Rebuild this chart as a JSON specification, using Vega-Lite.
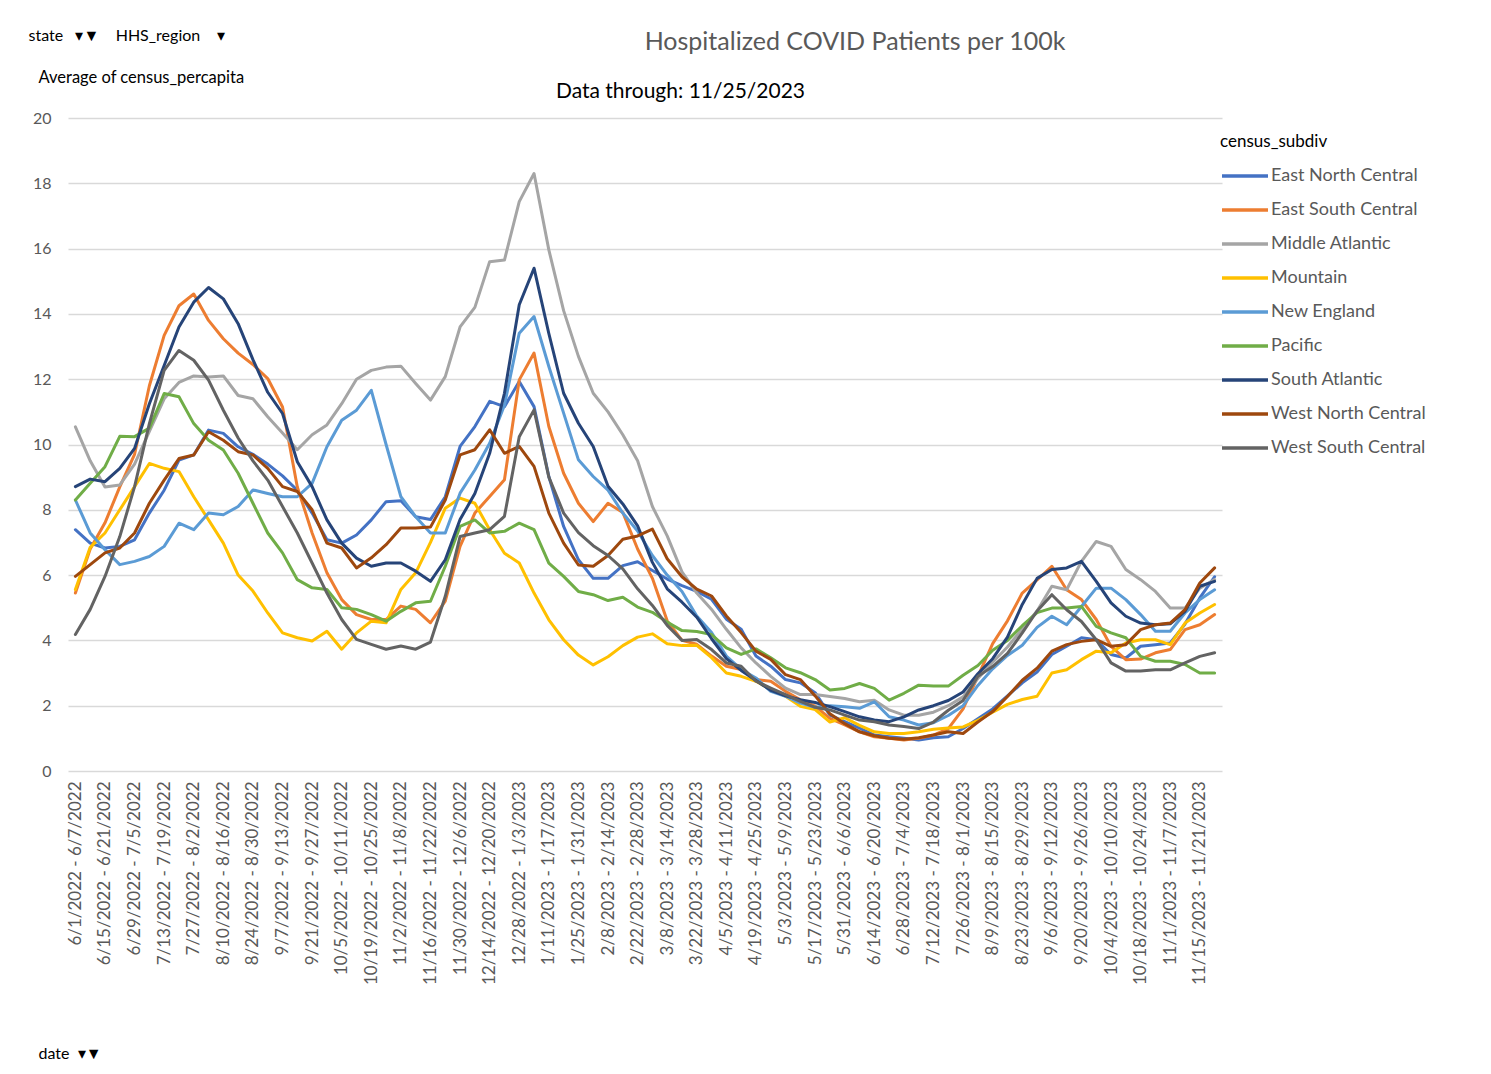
{
"$schema":"https://vega.github.io/schema/vega-lite/v6.json",
"width":1154,"height":653,
"autosize":{"type":"none"},
"padding":{"left":68,"top":118,"right":269,"bottom":303},
"background":"white",
"config":{"view":{"stroke":null},"font":"Lato"},
"title":{"text":"Hospitalized COVID Patients per 100k","fontSize":25,"font":"Lato","fontWeight":"normal","color":"#595959","anchor":"middle","frame":"group","dx":210,"offset":-28},
"datasets":{
"weeks":[
{"w":0,"week":"6/1/2022 - 6/7/2022"},{"w":1,"week":"6/8/2022 - 6/14/2022"},{"w":2,"week":"6/15/2022 - 6/21/2022"},{"w":3,"week":"6/22/2022 - 6/28/2022"},{"w":4,"week":"6/29/2022 - 7/5/2022"},{"w":5,"week":"7/6/2022 - 7/12/2022"},{"w":6,"week":"7/13/2022 - 7/19/2022"},{"w":7,"week":"7/20/2022 - 7/26/2022"},{"w":8,"week":"7/27/2022 - 8/2/2022"},{"w":9,"week":"8/3/2022 - 8/9/2022"},
{"w":10,"week":"8/10/2022 - 8/16/2022"},{"w":11,"week":"8/17/2022 - 8/23/2022"},{"w":12,"week":"8/24/2022 - 8/30/2022"},{"w":13,"week":"8/31/2022 - 9/6/2022"},{"w":14,"week":"9/7/2022 - 9/13/2022"},{"w":15,"week":"9/14/2022 - 9/20/2022"},{"w":16,"week":"9/21/2022 - 9/27/2022"},{"w":17,"week":"9/28/2022 - 10/4/2022"},{"w":18,"week":"10/5/2022 - 10/11/2022"},{"w":19,"week":"10/12/2022 - 10/18/2022"},
{"w":20,"week":"10/19/2022 - 10/25/2022"},{"w":21,"week":"10/26/2022 - 11/1/2022"},{"w":22,"week":"11/2/2022 - 11/8/2022"},{"w":23,"week":"11/9/2022 - 11/15/2022"},{"w":24,"week":"11/16/2022 - 11/22/2022"},{"w":25,"week":"11/23/2022 - 11/29/2022"},{"w":26,"week":"11/30/2022 - 12/6/2022"},{"w":27,"week":"12/7/2022 - 12/13/2022"},{"w":28,"week":"12/14/2022 - 12/20/2022"},{"w":29,"week":"12/21/2022 - 12/27/2022"},
{"w":30,"week":"12/28/2022 - 1/3/2023"},{"w":31,"week":"1/4/2023 - 1/10/2023"},{"w":32,"week":"1/11/2023 - 1/17/2023"},{"w":33,"week":"1/18/2023 - 1/24/2023"},{"w":34,"week":"1/25/2023 - 1/31/2023"},{"w":35,"week":"2/1/2023 - 2/7/2023"},{"w":36,"week":"2/8/2023 - 2/14/2023"},{"w":37,"week":"2/15/2023 - 2/21/2023"},{"w":38,"week":"2/22/2023 - 2/28/2023"},{"w":39,"week":"3/1/2023 - 3/7/2023"},
{"w":40,"week":"3/8/2023 - 3/14/2023"},{"w":41,"week":"3/15/2023 - 3/21/2023"},{"w":42,"week":"3/22/2023 - 3/28/2023"},{"w":43,"week":"3/29/2023 - 4/4/2023"},{"w":44,"week":"4/5/2023 - 4/11/2023"},{"w":45,"week":"4/12/2023 - 4/18/2023"},{"w":46,"week":"4/19/2023 - 4/25/2023"},{"w":47,"week":"4/26/2023 - 5/2/2023"},{"w":48,"week":"5/3/2023 - 5/9/2023"},{"w":49,"week":"5/10/2023 - 5/16/2023"},
{"w":50,"week":"5/17/2023 - 5/23/2023"},{"w":51,"week":"5/24/2023 - 5/30/2023"},{"w":52,"week":"5/31/2023 - 6/6/2023"},{"w":53,"week":"6/7/2023 - 6/13/2023"},{"w":54,"week":"6/14/2023 - 6/20/2023"},{"w":55,"week":"6/21/2023 - 6/27/2023"},{"w":56,"week":"6/28/2023 - 7/4/2023"},{"w":57,"week":"7/5/2023 - 7/11/2023"},{"w":58,"week":"7/12/2023 - 7/18/2023"},{"w":59,"week":"7/19/2023 - 7/25/2023"},
{"w":60,"week":"7/26/2023 - 8/1/2023"},{"w":61,"week":"8/2/2023 - 8/8/2023"},{"w":62,"week":"8/9/2023 - 8/15/2023"},{"w":63,"week":"8/16/2023 - 8/22/2023"},{"w":64,"week":"8/23/2023 - 8/29/2023"},{"w":65,"week":"8/30/2023 - 9/5/2023"},{"w":66,"week":"9/6/2023 - 9/12/2023"},{"w":67,"week":"9/13/2023 - 9/19/2023"},{"w":68,"week":"9/20/2023 - 9/26/2023"},{"w":69,"week":"9/27/2023 - 10/3/2023"},
{"w":70,"week":"10/4/2023 - 10/10/2023"},{"w":71,"week":"10/11/2023 - 10/17/2023"},{"w":72,"week":"10/18/2023 - 10/24/2023"},{"w":73,"week":"10/25/2023 - 10/31/2023"},{"w":74,"week":"11/1/2023 - 11/7/2023"},{"w":75,"week":"11/8/2023 - 11/14/2023"},{"w":76,"week":"11/15/2023 - 11/21/2023"},{"w":77,"week":"11/22/2023 - 11/28/2023"}
],
"subdivs":[
{"s":"ENC","census_subdiv":"East North Central"},{"s":"ESC","census_subdiv":"East South Central"},{"s":"MA","census_subdiv":"Middle Atlantic"},{"s":"MTN","census_subdiv":"Mountain"},{"s":"NE","census_subdiv":"New England"},{"s":"PAC","census_subdiv":"Pacific"},{"s":"SA","census_subdiv":"South Atlantic"},{"s":"WNC","census_subdiv":"West North Central"},{"s":"WSC","census_subdiv":"West South Central"}
],
"values":[
{"w":0,"s":"ENC","v":7.39},{"w":1,"s":"ENC","v":6.98},{"w":2,"s":"ENC","v":6.83},{"w":3,"s":"ENC","v":6.88},{"w":4,"s":"ENC","v":7.08},{"w":5,"s":"ENC","v":7.9},{"w":6,"s":"ENC","v":8.6},{"w":7,"s":"ENC","v":9.52},{"w":8,"s":"ENC","v":9.68},{"w":9,"s":"ENC","v":10.44},
{"w":10,"s":"ENC","v":10.34},{"w":11,"s":"ENC","v":9.93},{"w":12,"s":"ENC","v":9.7},{"w":13,"s":"ENC","v":9.4},{"w":14,"s":"ENC","v":9.04},{"w":15,"s":"ENC","v":8.6},{"w":16,"s":"ENC","v":7.9},{"w":17,"s":"ENC","v":7.08},{"w":18,"s":"ENC","v":6.98},{"w":19,"s":"ENC","v":7.23},
{"w":20,"s":"ENC","v":7.69},{"w":21,"s":"ENC","v":8.25},{"w":22,"s":"ENC","v":8.28},{"w":23,"s":"ENC","v":7.79},{"w":24,"s":"ENC","v":7.7},{"w":25,"s":"ENC","v":8.4},{"w":26,"s":"ENC","v":9.94},{"w":27,"s":"ENC","v":10.55},{"w":28,"s":"ENC","v":11.32},{"w":29,"s":"ENC","v":11.16},
{"w":30,"s":"ENC","v":11.93},{"w":31,"s":"ENC","v":11.16},{"w":32,"s":"ENC","v":9.02},{"w":33,"s":"ENC","v":7.49},{"w":34,"s":"ENC","v":6.47},{"w":35,"s":"ENC","v":5.9},{"w":36,"s":"ENC","v":5.9},{"w":37,"s":"ENC","v":6.29},{"w":38,"s":"ENC","v":6.41},{"w":39,"s":"ENC","v":6.14},
{"w":40,"s":"ENC","v":5.88},{"w":41,"s":"ENC","v":5.68},{"w":42,"s":"ENC","v":5.5},{"w":43,"s":"ENC","v":5.26},{"w":44,"s":"ENC","v":4.65},{"w":45,"s":"ENC","v":4.34},{"w":46,"s":"ENC","v":3.52},{"w":47,"s":"ENC","v":3.21},{"w":48,"s":"ENC","v":2.8},{"w":49,"s":"ENC","v":2.7},
{"w":50,"s":"ENC","v":2.4},{"w":51,"s":"ENC","v":1.71},{"w":52,"s":"ENC","v":1.51},{"w":53,"s":"ENC","v":1.31},{"w":54,"s":"ENC","v":1.1},{"w":55,"s":"ENC","v":1.05},{"w":56,"s":"ENC","v":1.0},{"w":57,"s":"ENC","v":0.95},{"w":58,"s":"ENC","v":1.02},{"w":59,"s":"ENC","v":1.05},
{"w":60,"s":"ENC","v":1.3},{"w":61,"s":"ENC","v":1.6},{"w":62,"s":"ENC","v":1.9},{"w":63,"s":"ENC","v":2.3},{"w":64,"s":"ENC","v":2.7},{"w":65,"s":"ENC","v":3.03},{"w":66,"s":"ENC","v":3.57},{"w":67,"s":"ENC","v":3.82},{"w":68,"s":"ENC","v":4.08},{"w":69,"s":"ENC","v":4.02},
{"w":70,"s":"ENC","v":3.57},{"w":71,"s":"ENC","v":3.46},{"w":72,"s":"ENC","v":3.82},{"w":73,"s":"ENC","v":3.87},{"w":74,"s":"ENC","v":3.92},{"w":75,"s":"ENC","v":4.5},{"w":76,"s":"ENC","v":5.3},{"w":77,"s":"ENC","v":5.95},

{"w":0,"s":"ESC","v":5.45},{"w":1,"s":"ESC","v":6.8},{"w":2,"s":"ESC","v":7.6},{"w":3,"s":"ESC","v":8.7},{"w":4,"s":"ESC","v":9.7},{"w":5,"s":"ESC","v":11.8},{"w":6,"s":"ESC","v":13.34},{"w":7,"s":"ESC","v":14.25},{"w":8,"s":"ESC","v":14.61},{"w":9,"s":"ESC","v":13.8},
{"w":10,"s":"ESC","v":13.24},{"w":11,"s":"ESC","v":12.8},{"w":12,"s":"ESC","v":12.45},{"w":13,"s":"ESC","v":12.02},{"w":14,"s":"ESC","v":11.15},{"w":15,"s":"ESC","v":8.7},{"w":16,"s":"ESC","v":7.29},{"w":17,"s":"ESC","v":6.07},{"w":18,"s":"ESC","v":5.25},{"w":19,"s":"ESC","v":4.79},
{"w":20,"s":"ESC","v":4.64},{"w":21,"s":"ESC","v":4.64},{"w":22,"s":"ESC","v":5.05},{"w":23,"s":"ESC","v":4.95},{"w":24,"s":"ESC","v":4.54},{"w":25,"s":"ESC","v":5.2},{"w":26,"s":"ESC","v":6.88},{"w":27,"s":"ESC","v":7.9},{"w":28,"s":"ESC","v":8.41},{"w":29,"s":"ESC","v":8.92},
{"w":30,"s":"ESC","v":11.98},{"w":31,"s":"ESC","v":12.8},{"w":32,"s":"ESC","v":10.55},{"w":33,"s":"ESC","v":9.12},{"w":34,"s":"ESC","v":8.2},{"w":35,"s":"ESC","v":7.64},{"w":36,"s":"ESC","v":8.2},{"w":37,"s":"ESC","v":7.92},{"w":38,"s":"ESC","v":6.8},{"w":39,"s":"ESC","v":5.9},
{"w":40,"s":"ESC","v":4.6},{"w":41,"s":"ESC","v":4.0},{"w":42,"s":"ESC","v":3.88},{"w":43,"s":"ESC","v":3.52},{"w":44,"s":"ESC","v":3.21},{"w":45,"s":"ESC","v":3.11},{"w":46,"s":"ESC","v":2.8},{"w":47,"s":"ESC","v":2.75},{"w":48,"s":"ESC","v":2.44},{"w":49,"s":"ESC","v":2.18},
{"w":50,"s":"ESC","v":1.99},{"w":51,"s":"ESC","v":1.61},{"w":52,"s":"ESC","v":1.41},{"w":53,"s":"ESC","v":1.2},{"w":54,"s":"ESC","v":1.05},{"w":55,"s":"ESC","v":1.0},{"w":56,"s":"ESC","v":0.95},{"w":57,"s":"ESC","v":1.0},{"w":58,"s":"ESC","v":1.1},{"w":59,"s":"ESC","v":1.3},
{"w":60,"s":"ESC","v":1.9},{"w":61,"s":"ESC","v":2.9},{"w":62,"s":"ESC","v":3.9},{"w":63,"s":"ESC","v":4.6},{"w":64,"s":"ESC","v":5.45},{"w":65,"s":"ESC","v":5.85},{"w":66,"s":"ESC","v":6.27},{"w":67,"s":"ESC","v":5.55},{"w":68,"s":"ESC","v":5.25},{"w":69,"s":"ESC","v":4.64},
{"w":70,"s":"ESC","v":3.82},{"w":71,"s":"ESC","v":3.41},{"w":72,"s":"ESC","v":3.43},{"w":73,"s":"ESC","v":3.62},{"w":74,"s":"ESC","v":3.72},{"w":75,"s":"ESC","v":4.33},{"w":76,"s":"ESC","v":4.48},{"w":77,"s":"ESC","v":4.79},

{"w":0,"s":"MA","v":10.54},{"w":1,"s":"MA","v":9.5},{"w":2,"s":"MA","v":8.7},{"w":3,"s":"MA","v":8.76},{"w":4,"s":"MA","v":9.4},{"w":5,"s":"MA","v":10.4},{"w":6,"s":"MA","v":11.4},{"w":7,"s":"MA","v":11.9},{"w":8,"s":"MA","v":12.1},{"w":9,"s":"MA","v":12.07},
{"w":10,"s":"MA","v":12.1},{"w":11,"s":"MA","v":11.5},{"w":12,"s":"MA","v":11.4},{"w":13,"s":"MA","v":10.85},{"w":14,"s":"MA","v":10.35},{"w":15,"s":"MA","v":9.84},{"w":16,"s":"MA","v":10.3},{"w":17,"s":"MA","v":10.6},{"w":18,"s":"MA","v":11.25},{"w":19,"s":"MA","v":12.0},
{"w":20,"s":"MA","v":12.27},{"w":21,"s":"MA","v":12.37},{"w":22,"s":"MA","v":12.4},{"w":23,"s":"MA","v":11.87},{"w":24,"s":"MA","v":11.36},{"w":25,"s":"MA","v":12.08},{"w":26,"s":"MA","v":13.6},{"w":27,"s":"MA","v":14.2},{"w":28,"s":"MA","v":15.6},{"w":29,"s":"MA","v":15.65},
{"w":30,"s":"MA","v":17.44},{"w":31,"s":"MA","v":18.3},{"w":32,"s":"MA","v":15.96},{"w":33,"s":"MA","v":14.1},{"w":34,"s":"MA","v":12.7},{"w":35,"s":"MA","v":11.57},{"w":36,"s":"MA","v":11.0},{"w":37,"s":"MA","v":10.3},{"w":38,"s":"MA","v":9.5},{"w":39,"s":"MA","v":8.1},
{"w":40,"s":"MA","v":7.2},{"w":41,"s":"MA","v":6.1},{"w":42,"s":"MA","v":5.45},{"w":43,"s":"MA","v":4.95},{"w":44,"s":"MA","v":4.34},{"w":45,"s":"MA","v":3.77},{"w":46,"s":"MA","v":3.31},{"w":47,"s":"MA","v":2.9},{"w":48,"s":"MA","v":2.54},{"w":49,"s":"MA","v":2.34},
{"w":50,"s":"MA","v":2.34},{"w":51,"s":"MA","v":2.28},{"w":52,"s":"MA","v":2.22},{"w":53,"s":"MA","v":2.12},{"w":54,"s":"MA","v":2.17},{"w":55,"s":"MA","v":1.87},{"w":56,"s":"MA","v":1.71},{"w":57,"s":"MA","v":1.71},{"w":58,"s":"MA","v":1.8},{"w":59,"s":"MA","v":2.0},
{"w":60,"s":"MA","v":2.27},{"w":61,"s":"MA","v":2.83},{"w":62,"s":"MA","v":3.33},{"w":63,"s":"MA","v":3.8},{"w":64,"s":"MA","v":4.35},{"w":65,"s":"MA","v":4.9},{"w":66,"s":"MA","v":5.66},{"w":67,"s":"MA","v":5.55},{"w":68,"s":"MA","v":6.42},{"w":69,"s":"MA","v":7.03},
{"w":70,"s":"MA","v":6.88},{"w":71,"s":"MA","v":6.17},{"w":72,"s":"MA","v":5.86},{"w":73,"s":"MA","v":5.5},{"w":74,"s":"MA","v":4.99},{"w":75,"s":"MA","v":4.99},{"w":76,"s":"MA","v":5.6},{"w":77,"s":"MA","v":5.86},

{"w":0,"s":"MTN","v":5.56},{"w":1,"s":"MTN","v":6.85},{"w":2,"s":"MTN","v":7.29},{"w":3,"s":"MTN","v":8.0},{"w":4,"s":"MTN","v":8.71},{"w":5,"s":"MTN","v":9.42},{"w":6,"s":"MTN","v":9.27},{"w":7,"s":"MTN","v":9.17},{"w":8,"s":"MTN","v":8.4},{"w":9,"s":"MTN","v":7.69},
{"w":10,"s":"MTN","v":6.98},{"w":11,"s":"MTN","v":6.0},{"w":12,"s":"MTN","v":5.51},{"w":13,"s":"MTN","v":4.84},{"w":14,"s":"MTN","v":4.23},{"w":15,"s":"MTN","v":4.08},{"w":16,"s":"MTN","v":3.98},{"w":17,"s":"MTN","v":4.28},{"w":18,"s":"MTN","v":3.73},{"w":19,"s":"MTN","v":4.23},
{"w":20,"s":"MTN","v":4.59},{"w":21,"s":"MTN","v":4.54},{"w":22,"s":"MTN","v":5.56},{"w":23,"s":"MTN","v":6.07},{"w":24,"s":"MTN","v":7.0},{"w":25,"s":"MTN","v":8.05},{"w":26,"s":"MTN","v":8.36},{"w":27,"s":"MTN","v":8.2},{"w":28,"s":"MTN","v":7.39},{"w":29,"s":"MTN","v":6.67},
{"w":30,"s":"MTN","v":6.37},{"w":31,"s":"MTN","v":5.45},{"w":32,"s":"MTN","v":4.63},{"w":33,"s":"MTN","v":4.02},{"w":34,"s":"MTN","v":3.55},{"w":35,"s":"MTN","v":3.25},{"w":36,"s":"MTN","v":3.5},{"w":37,"s":"MTN","v":3.84},{"w":38,"s":"MTN","v":4.1},{"w":39,"s":"MTN","v":4.2},
{"w":40,"s":"MTN","v":3.9},{"w":41,"s":"MTN","v":3.84},{"w":42,"s":"MTN","v":3.85},{"w":43,"s":"MTN","v":3.47},{"w":44,"s":"MTN","v":3.0},{"w":45,"s":"MTN","v":2.9},{"w":46,"s":"MTN","v":2.75},{"w":47,"s":"MTN","v":2.49},{"w":48,"s":"MTN","v":2.29},{"w":49,"s":"MTN","v":1.98},
{"w":50,"s":"MTN","v":1.88},{"w":51,"s":"MTN","v":1.5},{"w":52,"s":"MTN","v":1.63},{"w":53,"s":"MTN","v":1.4},{"w":54,"s":"MTN","v":1.2},{"w":55,"s":"MTN","v":1.15},{"w":56,"s":"MTN","v":1.15},{"w":57,"s":"MTN","v":1.2},{"w":58,"s":"MTN","v":1.28},{"w":59,"s":"MTN","v":1.32},
{"w":60,"s":"MTN","v":1.35},{"w":61,"s":"MTN","v":1.55},{"w":62,"s":"MTN","v":1.8},{"w":63,"s":"MTN","v":2.04},{"w":64,"s":"MTN","v":2.19},{"w":65,"s":"MTN","v":2.29},{"w":66,"s":"MTN","v":3.0},{"w":67,"s":"MTN","v":3.1},{"w":68,"s":"MTN","v":3.41},{"w":69,"s":"MTN","v":3.67},
{"w":70,"s":"MTN","v":3.62},{"w":71,"s":"MTN","v":3.92},{"w":72,"s":"MTN","v":4.02},{"w":73,"s":"MTN","v":4.02},{"w":74,"s":"MTN","v":3.87},{"w":75,"s":"MTN","v":4.53},{"w":76,"s":"MTN","v":4.84},{"w":77,"s":"MTN","v":5.1},

{"w":0,"s":"NE","v":8.3},{"w":1,"s":"NE","v":7.29},{"w":2,"s":"NE","v":6.78},{"w":3,"s":"NE","v":6.32},{"w":4,"s":"NE","v":6.42},{"w":5,"s":"NE","v":6.57},{"w":6,"s":"NE","v":6.88},{"w":7,"s":"NE","v":7.59},{"w":8,"s":"NE","v":7.39},{"w":9,"s":"NE","v":7.9},
{"w":10,"s":"NE","v":7.85},{"w":11,"s":"NE","v":8.1},{"w":12,"s":"NE","v":8.61},{"w":13,"s":"NE","v":8.5},{"w":14,"s":"NE","v":8.4},{"w":15,"s":"NE","v":8.4},{"w":16,"s":"NE","v":8.81},{"w":17,"s":"NE","v":9.93},{"w":18,"s":"NE","v":10.74},{"w":19,"s":"NE","v":11.05},
{"w":20,"s":"NE","v":11.66},{"w":21,"s":"NE","v":10.0},{"w":22,"s":"NE","v":8.4},{"w":23,"s":"NE","v":7.79},{"w":24,"s":"NE","v":7.29},{"w":25,"s":"NE","v":7.29},{"w":26,"s":"NE","v":8.51},{"w":27,"s":"NE","v":9.22},{"w":28,"s":"NE","v":10.04},{"w":29,"s":"NE","v":11.2},
{"w":30,"s":"NE","v":13.41},{"w":31,"s":"NE","v":13.92},{"w":32,"s":"NE","v":12.39},{"w":33,"s":"NE","v":10.96},{"w":34,"s":"NE","v":9.53},{"w":35,"s":"NE","v":9.02},{"w":36,"s":"NE","v":8.6},{"w":37,"s":"NE","v":7.9},{"w":38,"s":"NE","v":7.35},{"w":39,"s":"NE","v":6.6},
{"w":40,"s":"NE","v":6.0},{"w":41,"s":"NE","v":5.5},{"w":42,"s":"NE","v":4.75},{"w":43,"s":"NE","v":4.24},{"w":44,"s":"NE","v":3.52},{"w":45,"s":"NE","v":3.11},{"w":46,"s":"NE","v":2.85},{"w":47,"s":"NE","v":2.44},{"w":48,"s":"NE","v":2.29},{"w":49,"s":"NE","v":2.08},
{"w":50,"s":"NE","v":1.95},{"w":51,"s":"NE","v":2.0},{"w":52,"s":"NE","v":1.97},{"w":53,"s":"NE","v":1.92},{"w":54,"s":"NE","v":2.12},{"w":55,"s":"NE","v":1.66},{"w":56,"s":"NE","v":1.56},{"w":57,"s":"NE","v":1.41},{"w":58,"s":"NE","v":1.48},{"w":59,"s":"NE","v":1.7},
{"w":60,"s":"NE","v":2.0},{"w":61,"s":"NE","v":2.62},{"w":62,"s":"NE","v":3.13},{"w":63,"s":"NE","v":3.54},{"w":64,"s":"NE","v":3.85},{"w":65,"s":"NE","v":4.4},{"w":66,"s":"NE","v":4.74},{"w":67,"s":"NE","v":4.48},{"w":68,"s":"NE","v":5.04},{"w":69,"s":"NE","v":5.6},
{"w":70,"s":"NE","v":5.6},{"w":71,"s":"NE","v":5.25},{"w":72,"s":"NE","v":4.79},{"w":73,"s":"NE","v":4.28},{"w":74,"s":"NE","v":4.28},{"w":75,"s":"NE","v":4.84},{"w":76,"s":"NE","v":5.25},{"w":77,"s":"NE","v":5.55},

{"w":0,"s":"PAC","v":8.3},{"w":1,"s":"PAC","v":8.81},{"w":2,"s":"PAC","v":9.32},{"w":3,"s":"PAC","v":10.25},{"w":4,"s":"PAC","v":10.24},{"w":5,"s":"PAC","v":10.5},{"w":6,"s":"PAC","v":11.56},{"w":7,"s":"PAC","v":11.46},{"w":8,"s":"PAC","v":10.64},{"w":9,"s":"PAC","v":10.13},
{"w":10,"s":"PAC","v":9.83},{"w":11,"s":"PAC","v":9.12},{"w":12,"s":"PAC","v":8.2},{"w":13,"s":"PAC","v":7.29},{"w":14,"s":"PAC","v":6.68},{"w":15,"s":"PAC","v":5.86},{"w":16,"s":"PAC","v":5.61},{"w":17,"s":"PAC","v":5.56},{"w":18,"s":"PAC","v":5.0},{"w":19,"s":"PAC","v":4.95},
{"w":20,"s":"PAC","v":4.79},{"w":21,"s":"PAC","v":4.59},{"w":22,"s":"PAC","v":4.89},{"w":23,"s":"PAC","v":5.15},{"w":24,"s":"PAC","v":5.2},{"w":25,"s":"PAC","v":6.27},{"w":26,"s":"PAC","v":7.49},{"w":27,"s":"PAC","v":7.69},{"w":28,"s":"PAC","v":7.29},{"w":29,"s":"PAC","v":7.34},
{"w":30,"s":"PAC","v":7.59},{"w":31,"s":"PAC","v":7.39},{"w":32,"s":"PAC","v":6.37},{"w":33,"s":"PAC","v":5.96},{"w":34,"s":"PAC","v":5.5},{"w":35,"s":"PAC","v":5.4},{"w":36,"s":"PAC","v":5.22},{"w":37,"s":"PAC","v":5.32},{"w":38,"s":"PAC","v":5.02},{"w":39,"s":"PAC","v":4.86},
{"w":40,"s":"PAC","v":4.56},{"w":41,"s":"PAC","v":4.3},{"w":42,"s":"PAC","v":4.27},{"w":43,"s":"PAC","v":4.18},{"w":44,"s":"PAC","v":3.77},{"w":45,"s":"PAC","v":3.57},{"w":46,"s":"PAC","v":3.74},{"w":47,"s":"PAC","v":3.47},{"w":48,"s":"PAC","v":3.16},{"w":49,"s":"PAC","v":3.01},
{"w":50,"s":"PAC","v":2.8},{"w":51,"s":"PAC","v":2.48},{"w":52,"s":"PAC","v":2.53},{"w":53,"s":"PAC","v":2.68},{"w":54,"s":"PAC","v":2.53},{"w":55,"s":"PAC","v":2.17},{"w":56,"s":"PAC","v":2.38},{"w":57,"s":"PAC","v":2.63},{"w":58,"s":"PAC","v":2.6},{"w":59,"s":"PAC","v":2.6},
{"w":60,"s":"PAC","v":2.93},{"w":61,"s":"PAC","v":3.23},{"w":62,"s":"PAC","v":3.7},{"w":63,"s":"PAC","v":4.0},{"w":64,"s":"PAC","v":4.45},{"w":65,"s":"PAC","v":4.85},{"w":66,"s":"PAC","v":4.99},{"w":67,"s":"PAC","v":4.99},{"w":68,"s":"PAC","v":5.04},{"w":69,"s":"PAC","v":4.43},
{"w":70,"s":"PAC","v":4.23},{"w":71,"s":"PAC","v":4.08},{"w":72,"s":"PAC","v":3.51},{"w":73,"s":"PAC","v":3.36},{"w":74,"s":"PAC","v":3.36},{"w":75,"s":"PAC","v":3.26},{"w":76,"s":"PAC","v":3.0},{"w":77,"s":"PAC","v":3.0},

{"w":0,"s":"SA","v":8.71},{"w":1,"s":"SA","v":8.94},{"w":2,"s":"SA","v":8.86},{"w":3,"s":"SA","v":9.27},{"w":4,"s":"SA","v":9.88},{"w":5,"s":"SA","v":11.25},{"w":6,"s":"SA","v":12.42},{"w":7,"s":"SA","v":13.6},{"w":8,"s":"SA","v":14.36},{"w":9,"s":"SA","v":14.81},
{"w":10,"s":"SA","v":14.46},{"w":11,"s":"SA","v":13.7},{"w":12,"s":"SA","v":12.6},{"w":13,"s":"SA","v":11.6},{"w":14,"s":"SA","v":10.95},{"w":15,"s":"SA","v":9.47},{"w":16,"s":"SA","v":8.71},{"w":17,"s":"SA","v":7.69},{"w":18,"s":"SA","v":6.98},{"w":19,"s":"SA","v":6.52},
{"w":20,"s":"SA","v":6.27},{"w":21,"s":"SA","v":6.37},{"w":22,"s":"SA","v":6.37},{"w":23,"s":"SA","v":6.12},{"w":24,"s":"SA","v":5.81},{"w":25,"s":"SA","v":6.47},{"w":26,"s":"SA","v":7.7},{"w":27,"s":"SA","v":8.5},{"w":28,"s":"SA","v":9.73},{"w":29,"s":"SA","v":11.57},
{"w":30,"s":"SA","v":14.28},{"w":31,"s":"SA","v":15.4},{"w":32,"s":"SA","v":13.4},{"w":33,"s":"SA","v":11.57},{"w":34,"s":"SA","v":10.65},{"w":35,"s":"SA","v":9.94},{"w":36,"s":"SA","v":8.72},{"w":37,"s":"SA","v":8.18},{"w":38,"s":"SA","v":7.51},{"w":39,"s":"SA","v":6.39},
{"w":40,"s":"SA","v":5.58},{"w":41,"s":"SA","v":5.17},{"w":42,"s":"SA","v":4.71},{"w":43,"s":"SA","v":4.05},{"w":44,"s":"SA","v":3.44},{"w":45,"s":"SA","v":3.08},{"w":46,"s":"SA","v":2.77},{"w":47,"s":"SA","v":2.47},{"w":48,"s":"SA","v":2.3},{"w":49,"s":"SA","v":2.18},
{"w":50,"s":"SA","v":2.1},{"w":51,"s":"SA","v":1.97},{"w":52,"s":"SA","v":1.82},{"w":53,"s":"SA","v":1.66},{"w":54,"s":"SA","v":1.56},{"w":55,"s":"SA","v":1.51},{"w":56,"s":"SA","v":1.66},{"w":57,"s":"SA","v":1.87},{"w":58,"s":"SA","v":2.0},{"w":59,"s":"SA","v":2.16},
{"w":60,"s":"SA","v":2.42},{"w":61,"s":"SA","v":2.98},{"w":62,"s":"SA","v":3.44},{"w":63,"s":"SA","v":4.1},{"w":64,"s":"SA","v":5.1},{"w":65,"s":"SA","v":5.9},{"w":66,"s":"SA","v":6.17},{"w":67,"s":"SA","v":6.22},{"w":68,"s":"SA","v":6.42},{"w":69,"s":"SA","v":5.81},
{"w":70,"s":"SA","v":5.15},{"w":71,"s":"SA","v":4.74},{"w":72,"s":"SA","v":4.53},{"w":73,"s":"SA","v":4.48},{"w":74,"s":"SA","v":4.51},{"w":75,"s":"SA","v":4.89},{"w":76,"s":"SA","v":5.66},{"w":77,"s":"SA","v":5.81},

{"w":0,"s":"WNC","v":5.96},{"w":1,"s":"WNC","v":6.32},{"w":2,"s":"WNC","v":6.68},{"w":3,"s":"WNC","v":6.83},{"w":4,"s":"WNC","v":7.29},{"w":5,"s":"WNC","v":8.2},{"w":6,"s":"WNC","v":8.91},{"w":7,"s":"WNC","v":9.57},{"w":8,"s":"WNC","v":9.68},{"w":9,"s":"WNC","v":10.39},
{"w":10,"s":"WNC","v":10.13},{"w":11,"s":"WNC","v":9.78},{"w":12,"s":"WNC","v":9.68},{"w":13,"s":"WNC","v":9.27},{"w":14,"s":"WNC","v":8.71},{"w":15,"s":"WNC","v":8.56},{"w":16,"s":"WNC","v":8.0},{"w":17,"s":"WNC","v":6.98},{"w":18,"s":"WNC","v":6.83},{"w":19,"s":"WNC","v":6.22},
{"w":20,"s":"WNC","v":6.53},{"w":21,"s":"WNC","v":6.93},{"w":22,"s":"WNC","v":7.44},{"w":23,"s":"WNC","v":7.44},{"w":24,"s":"WNC","v":7.47},{"w":25,"s":"WNC","v":8.3},{"w":26,"s":"WNC","v":9.68},{"w":27,"s":"WNC","v":9.84},{"w":28,"s":"WNC","v":10.45},{"w":29,"s":"WNC","v":9.73},
{"w":30,"s":"WNC","v":9.94},{"w":31,"s":"WNC","v":9.33},{"w":32,"s":"WNC","v":7.9},{"w":33,"s":"WNC","v":6.98},{"w":34,"s":"WNC","v":6.31},{"w":35,"s":"WNC","v":6.27},{"w":36,"s":"WNC","v":6.6},{"w":37,"s":"WNC","v":7.1},{"w":38,"s":"WNC","v":7.2},{"w":39,"s":"WNC","v":7.41},
{"w":40,"s":"WNC","v":6.5},{"w":41,"s":"WNC","v":5.95},{"w":42,"s":"WNC","v":5.57},{"w":43,"s":"WNC","v":5.36},{"w":44,"s":"WNC","v":4.75},{"w":45,"s":"WNC","v":4.24},{"w":46,"s":"WNC","v":3.67},{"w":47,"s":"WNC","v":3.42},{"w":48,"s":"WNC","v":2.95},{"w":49,"s":"WNC","v":2.8},
{"w":50,"s":"WNC","v":2.3},{"w":51,"s":"WNC","v":1.75},{"w":52,"s":"WNC","v":1.45},{"w":53,"s":"WNC","v":1.2},{"w":54,"s":"WNC","v":1.08},{"w":55,"s":"WNC","v":1.0},{"w":56,"s":"WNC","v":0.97},{"w":57,"s":"WNC","v":1.02},{"w":58,"s":"WNC","v":1.1},{"w":59,"s":"WNC","v":1.2},
{"w":60,"s":"WNC","v":1.15},{"w":61,"s":"WNC","v":1.5},{"w":62,"s":"WNC","v":1.82},{"w":63,"s":"WNC","v":2.28},{"w":64,"s":"WNC","v":2.78},{"w":65,"s":"WNC","v":3.15},{"w":66,"s":"WNC","v":3.67},{"w":67,"s":"WNC","v":3.87},{"w":68,"s":"WNC","v":3.97},{"w":69,"s":"WNC","v":4.02},
{"w":70,"s":"WNC","v":3.82},{"w":71,"s":"WNC","v":3.87},{"w":72,"s":"WNC","v":4.33},{"w":73,"s":"WNC","v":4.48},{"w":74,"s":"WNC","v":4.53},{"w":75,"s":"WNC","v":4.94},{"w":76,"s":"WNC","v":5.76},{"w":77,"s":"WNC","v":6.22},

{"w":0,"s":"WSC","v":4.18},{"w":1,"s":"WSC","v":4.95},{"w":2,"s":"WSC","v":5.96},{"w":3,"s":"WSC","v":7.18},{"w":4,"s":"WSC","v":8.71},{"w":5,"s":"WSC","v":10.64},{"w":6,"s":"WSC","v":12.27},{"w":7,"s":"WSC","v":12.88},{"w":8,"s":"WSC","v":12.58},{"w":9,"s":"WSC","v":11.97},
{"w":10,"s":"WSC","v":11.05},{"w":11,"s":"WSC","v":10.2},{"w":12,"s":"WSC","v":9.5},{"w":13,"s":"WSC","v":8.91},{"w":14,"s":"WSC","v":8.1},{"w":15,"s":"WSC","v":7.29},{"w":16,"s":"WSC","v":6.37},{"w":17,"s":"WSC","v":5.45},{"w":18,"s":"WSC","v":4.64},{"w":19,"s":"WSC","v":4.03},
{"w":20,"s":"WSC","v":3.88},{"w":21,"s":"WSC","v":3.73},{"w":22,"s":"WSC","v":3.83},{"w":23,"s":"WSC","v":3.73},{"w":24,"s":"WSC","v":3.95},{"w":25,"s":"WSC","v":5.35},{"w":26,"s":"WSC","v":7.18},{"w":27,"s":"WSC","v":7.29},{"w":28,"s":"WSC","v":7.39},{"w":29,"s":"WSC","v":7.8},
{"w":30,"s":"WSC","v":10.24},{"w":31,"s":"WSC","v":11.06},{"w":32,"s":"WSC","v":9.0},{"w":33,"s":"WSC","v":7.9},{"w":34,"s":"WSC","v":7.3},{"w":35,"s":"WSC","v":6.9},{"w":36,"s":"WSC","v":6.6},{"w":37,"s":"WSC","v":6.19},{"w":38,"s":"WSC","v":5.58},{"w":39,"s":"WSC","v":5.07},
{"w":40,"s":"WSC","v":4.46},{"w":41,"s":"WSC","v":4.0},{"w":42,"s":"WSC","v":4.03},{"w":43,"s":"WSC","v":3.72},{"w":44,"s":"WSC","v":3.31},{"w":45,"s":"WSC","v":3.21},{"w":46,"s":"WSC","v":2.75},{"w":47,"s":"WSC","v":2.54},{"w":48,"s":"WSC","v":2.34},{"w":49,"s":"WSC","v":2.13},
{"w":50,"s":"WSC","v":1.95},{"w":51,"s":"WSC","v":1.87},{"w":52,"s":"WSC","v":1.71},{"w":53,"s":"WSC","v":1.56},{"w":54,"s":"WSC","v":1.51},{"w":55,"s":"WSC","v":1.41},{"w":56,"s":"WSC","v":1.36},{"w":57,"s":"WSC","v":1.3},{"w":58,"s":"WSC","v":1.5},{"w":59,"s":"WSC","v":1.86},
{"w":60,"s":"WSC","v":2.16},{"w":61,"s":"WSC","v":2.9},{"w":62,"s":"WSC","v":3.2},{"w":63,"s":"WSC","v":3.6},{"w":64,"s":"WSC","v":4.23},{"w":65,"s":"WSC","v":4.9},{"w":66,"s":"WSC","v":5.4},{"w":67,"s":"WSC","v":4.94},{"w":68,"s":"WSC","v":4.58},{"w":69,"s":"WSC","v":4.02},
{"w":70,"s":"WSC","v":3.31},{"w":71,"s":"WSC","v":3.06},{"w":72,"s":"WSC","v":3.06},{"w":73,"s":"WSC","v":3.1},{"w":74,"s":"WSC","v":3.1},{"w":75,"s":"WSC","v":3.31},{"w":76,"s":"WSC","v":3.51},{"w":77,"s":"WSC","v":3.62}
]
},
"data":{"name":"values"},
"transform":[
{"lookup":"w","from":{"data":{"name":"weeks"},"key":"w","fields":["week"]}},
{"lookup":"s","from":{"data":{"name":"subdivs"},"key":"s","fields":["census_subdiv"]}}
],
"layer":[
{"mark":{"type":"line","strokeWidth":3,"strokeJoin":"round","strokeCap":"round"},
"encoding":{
"x":{"field":"week","type":"ordinal","sort":{"field":"w","op":"min"},"scale":{"type":"point","padding":0.5},
"axis":{"orient":"bottom","values":["6/1/2022 - 6/7/2022","6/15/2022 - 6/21/2022","6/29/2022 - 7/5/2022","7/13/2022 - 7/19/2022","7/27/2022 - 8/2/2022","8/10/2022 - 8/16/2022","8/24/2022 - 8/30/2022","9/7/2022 - 9/13/2022","9/21/2022 - 9/27/2022","10/5/2022 - 10/11/2022","10/19/2022 - 10/25/2022","11/2/2022 - 11/8/2022","11/16/2022 - 11/22/2022","11/30/2022 - 12/6/2022","12/14/2022 - 12/20/2022","12/28/2022 - 1/3/2023","1/11/2023 - 1/17/2023","1/25/2023 - 1/31/2023","2/8/2023 - 2/14/2023","2/22/2023 - 2/28/2023","3/8/2023 - 3/14/2023","3/22/2023 - 3/28/2023","4/5/2023 - 4/11/2023","4/19/2023 - 4/25/2023","5/3/2023 - 5/9/2023","5/17/2023 - 5/23/2023","5/31/2023 - 6/6/2023","6/14/2023 - 6/20/2023","6/28/2023 - 7/4/2023","7/12/2023 - 7/18/2023","7/26/2023 - 8/1/2023","8/9/2023 - 8/15/2023","8/23/2023 - 8/29/2023","9/6/2023 - 9/12/2023","9/20/2023 - 9/26/2023","10/4/2023 - 10/10/2023","10/18/2023 - 10/24/2023","11/1/2023 - 11/7/2023","11/15/2023 - 11/21/2023"],
"labelAngle":-90,"labelFontSize":17,"labelColor":"#595959","labelFont":"Lato","labelPadding":10,"labelLimit":400,"labelOverlap":false,"ticks":false,"domain":false,"grid":false,
"title":"date\u00a0\u00a0▾▼","titleX":-30,"titleY":282,"titleAlign":"left","titleBaseline":"middle","titleAngle":0,"titleFontSize":16,"titleFontWeight":"normal","titleColor":"black","titleFont":"Lato"}},
"y":{"field":"v","type":"quantitative","scale":{"domain":[0,20],"nice":false},
"axis":{"orient":"left","values":[0,2,4,6,8,10,12,14,16,18,20],"labelFontSize":16,"labelColor":"#595959","labelFont":"Lato","labelPadding":17,"ticks":false,"domain":false,"grid":true,"gridColor":"#D9D9D9","gridWidth":1.5,
"title":"Average of census_percapita","titleAngle":0,"titleX":-30,"titleY":-41,"titleAlign":"left","titleBaseline":"middle","titleFontSize":16.5,"titleFontWeight":"normal","titleColor":"black","titleFont":"Lato"}},
"color":{"field":"census_subdiv","type":"nominal",
"scale":{"domain":["East North Central","East South Central","Middle Atlantic","Mountain","New England","Pacific","South Atlantic","West North Central","West South Central"],
"range":["#4472C4","#ED7D31","#A5A5A5","#FFC000","#5B9BD5","#70AD47","#264478","#9E480E","#636363"]},
"legend":{"orient":"none","legendX":1152,"legendY":16,"title":"census_subdiv","titleFontSize":17,"titleFontWeight":"normal","titleColor":"black","titleFont":"Lato","titlePadding":0,
"labelFontSize":18,"labelColor":"#595959","labelFont":"Lato","labelOffset":1,"symbolType":"stroke","symbolStrokeWidth":3.5,"symbolSize":2116,"rowPadding":-2.8}}
}},
{"mark":{"type":"point","opacity":0},
"encoding":{
"x":{"field":"week","type":"ordinal","sort":{"field":"w","op":"min"},
"axis":{"orient":"top","labels":false,"ticks":false,"domain":false,"grid":false,"title":"Data through: 11/25/2023","titleX":612,"titleY":-27,"titleAlign":"center","titleBaseline":"middle","titleFontSize":21,"titleFontWeight":"normal","titleColor":"black","titleFont":"Lato"}},
"y":{"field":"v","type":"quantitative",
"axis":{"orient":"right","labels":false,"ticks":false,"domain":false,"grid":false,"title":"state\u00a0\u00a0\u00a0▾▼\u00a0\u00a0\u00a0\u00a0HHS_region\u00a0\u00a0\u00a0\u00a0▾","titleAngle":0,"titleX":-1194,"titleY":-83,"titleAlign":"left","titleBaseline":"middle","titleFontSize":16,"titleFontWeight":"normal","titleColor":"black","titleFont":"Lato"}}
}}
],
"resolve":{"axis":{"x":"independent","y":"independent"}}
}
